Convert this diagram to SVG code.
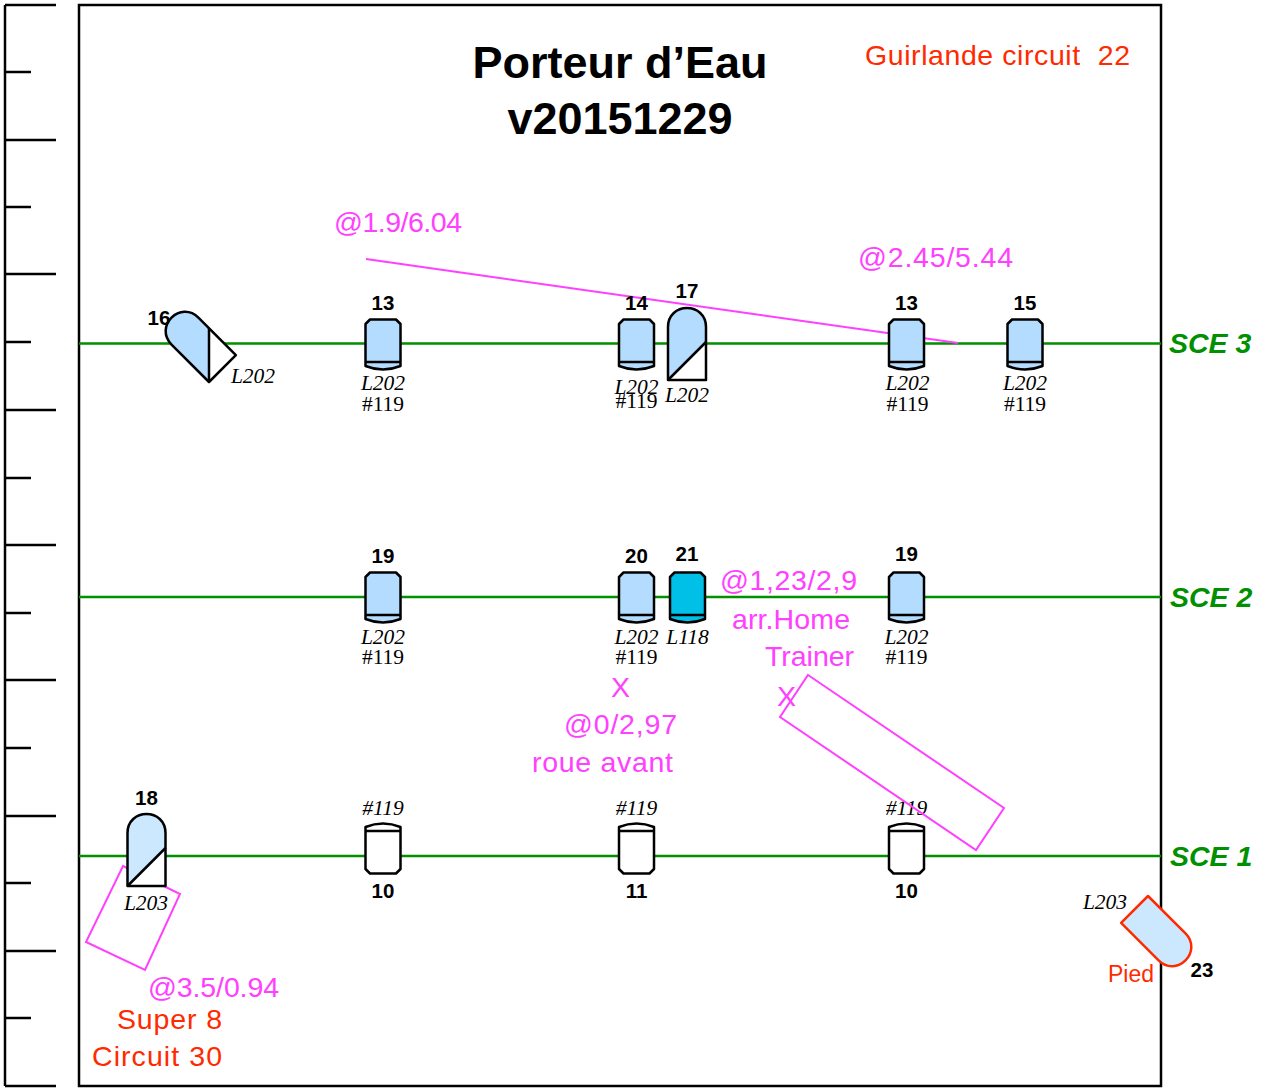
<svg xmlns="http://www.w3.org/2000/svg" xmlns:xlink="http://www.w3.org/1999/xlink" width="1265" height="1088" viewBox="0 0 1265 1088">
<style>
text{font-family:"Liberation Sans",Arial,sans-serif}
.k{fill:none;stroke:#000;stroke-width:2.5}
.g{fill:none;stroke:#009000;stroke-width:2.5}
.m{fill:none;stroke:#ff40ff;stroke-width:2}
.n{font-size:20.500px;font-weight:bold;fill:#000;text-anchor:middle}
.l{font-family:"Liberation Serif",serif;font-size:21.500px;font-style:italic;fill:#000;text-anchor:middle}
.h{font-family:"Liberation Serif",serif;font-size:21.500px;fill:#000;text-anchor:middle}
.sce{font-size:28.500px;font-weight:bold;font-style:italic;fill:#009000}
.mt{font-size:28.500px;fill:#ff40ff}
.rt{font-size:28.500px;fill:#ff2a00}
.t{font-size:45px;font-weight:bold;fill:#000;text-anchor:middle}
.b{stroke:#000;stroke-width:2.5;stroke-linejoin:round}
</style>
<defs>
<g id="par">
<path class="b" d="M-13,-23.500 H13 L17.500,-19 V23 Q0,30 -17.500,23 V-19 Z"/>
<path class="b" fill="none" d="M-17.500,19 H17.500"/>
</g>
<g id="parTop">
<path class="b" fill="#fff" d="M-13,23.500 H13 L17.500,19 V-23 Q0,-30 -17.500,-23 V19 Z"/>
<path class="b" fill="none" d="M-17.500,-19 H17.500"/>
</g>
<path id="prof" d="M0,36 V-17 C0,-29 9,-36 19,-36 C29,-36 38,-29 38,-17 V36 Z"/>
<g id="half">
<use xlink:href="#prof" href="#prof" fill="#fff"/>
<path d="M0,36 V-17 C0,-29 9,-36 19,-36 C29,-36 38,-29 38,-17 V-2 Z"/>
<use xlink:href="#prof" href="#prof" fill="none" stroke="#000" stroke-width="2.500" stroke-linejoin="round"/>
<path class="b" fill="none" d="M0,36 L38,-2"/>
</g>
</defs>

<g id="ruler">
<path class="k" d="M5,5 V1086 M5,5 H56 M5,72 H31 M5,140 H56 M5,207 H31 M5,274 H56 M5,342 H31 M5,410 H56 M5,478 H31 M5,545 H56 M5,613 H31 M5,680 H56 M5,748 H31 M5,816 H56 M5,883 H31 M5,951 H56 M5,1018 H31 M5,1086 H56"/>
</g>
<rect id="frame" x="79" y="5" width="1082" height="1081" fill="none" stroke="#000" stroke-width="2.500"/>

<g id="connectors">
<path class="g" d="M79,343.500 H1161 M79,597 H1161 M79,856 H1161"/>
</g>

<g id="title"><text class="t" x="620" y="78">Porteur d’Eau</text><text class="t" x="620" y="134">v20151229</text></g>
<text id="guirlande" class="rt" x="865" y="65" textLength="265" xml:space="preserve">Guirlande circuit  22</text>

<g id="sce-labels">
<text class="sce" x="1169" y="353">SCE 3</text>
<text class="sce" x="1170" y="607">SCE 2</text>
<text class="sce" x="1170" y="866">SCE 1</text>
</g>

<g id="annotations-back">
<path class="m" d="M366,259 L958,343"/>
<path class="m" d="M123,866 L180,894 L145,970 L86,942 Z"/>
</g>

<g id="n16"><g transform="translate(209,382) rotate(-45) translate(0,-36)"><use xlink:href="#half" href="#half" fill="#b3dcff"/></g><text class="n" x="159" y="325">16</text><text class="l" x="253" y="383">L202</text></g>
<g id="n13a"><use xlink:href="#par" href="#par" x="383" y="343" fill="#b3dcff"/><text class="n" x="383" y="310">13</text><text class="l" x="383" y="390">L202</text><text class="h" x="383" y="411">#119</text></g>
<g id="n14"><use xlink:href="#par" href="#par" x="636.500" y="343" fill="#b3dcff"/><text class="n" x="636.500" y="310">14</text><text class="l" x="636.500" y="394">L202</text><text class="h" x="636.500" y="408">#119</text></g>
<g id="n17"><use xlink:href="#half" href="#half" x="668" y="344" fill="#b3dcff"/><text class="n" x="687" y="298">17</text><text class="l" x="687" y="402">L202</text></g>
<g id="n13b"><use xlink:href="#par" href="#par" x="906.500" y="343" fill="#b3dcff"/><text class="n" x="906.500" y="310">13</text><text class="l" x="907.500" y="390">L202</text><text class="h" x="907.500" y="411">#119</text></g>
<g id="n15"><use xlink:href="#par" href="#par" x="1025" y="343" fill="#b3dcff"/><text class="n" x="1025" y="310">15</text><text class="l" x="1025" y="390">L202</text><text class="h" x="1025" y="411">#119</text></g>

<g id="n19a"><use xlink:href="#par" href="#par" x="383" y="596" fill="#b3dcff"/><text class="n" x="383" y="563">19</text><text class="l" x="383" y="644">L202</text><text class="h" x="383" y="664">#119</text></g>
<g id="n20"><use xlink:href="#par" href="#par" x="636.500" y="596" fill="#b3dcff"/><text class="n" x="636.500" y="563">20</text><text class="l" x="636.500" y="644">L202</text><text class="h" x="636.500" y="664">#119</text></g>
<g id="n21"><use xlink:href="#par" href="#par" x="687.500" y="596" fill="#00c0e8"/><text class="n" x="687" y="561">21</text><text class="l" x="687.500" y="644">L118</text></g>
<g id="n19b"><use xlink:href="#par" href="#par" x="906.500" y="596" fill="#b3dcff"/><text class="n" x="906.500" y="561">19</text><text class="l" x="906.500" y="644">L202</text><text class="h" x="906.500" y="664">#119</text></g>

<g id="n18"><use xlink:href="#half" href="#half" x="127.500" y="850" fill="#cce8ff"/><text class="n" x="146.500" y="805">18</text><text class="l" x="146" y="910">L203</text></g>
<g id="n10a"><use xlink:href="#parTop" href="#parTop" x="383" y="850"/><text class="l" x="383" y="815">#119</text><text class="n" x="383" y="898">10</text></g>
<g id="n11"><use xlink:href="#parTop" href="#parTop" x="636.500" y="850"/><text class="l" x="636.500" y="815">#119</text><text class="n" x="636.500" y="898">11</text></g>
<g id="n10b"><use xlink:href="#parTop" href="#parTop" x="906.500" y="850"/><text class="l" x="906.500" y="815">#119</text><text class="n" x="906.500" y="898">10</text></g>

<g id="n23"><g transform="translate(1148,896) rotate(135) translate(0,-36)"><use xlink:href="#prof" href="#prof" fill="#cce8ff" stroke="#ff2a00" stroke-width="2.500" stroke-linejoin="round"/></g><text class="l" x="1105" y="909">L203</text><text x="1108" y="982" font-size="23" fill="#ff2a00">Pied</text><text class="n" x="1202" y="977">23</text></g>

<g id="annotations">
<path class="m" d="M808,675 L1004,808 L976,850 L780,717 Z"/>
<text class="mt" x="334" y="232" textLength="128">@1.9/6.04</text>
<text class="mt" x="858" y="267" textLength="155">@2.45/5.44</text>
<text class="mt" x="720" y="590" textLength="137">@1,23/2,9</text>
<text class="mt" x="732" y="629" textLength="118">arr.Home</text>
<text class="mt" x="765" y="666" textLength="89">Trainer</text>
<text class="mt" x="777" y="706">X</text>
<text class="mt" x="611" y="697">X</text>
<text class="mt" x="564" y="734" textLength="113">@0/2,97</text>
<text class="mt" x="532" y="772" textLength="141">roue avant</text>
<text class="mt" x="148" y="997" textLength="131">@3.5/0.94</text>
<text class="rt" x="117" y="1029" textLength="105">Super 8</text>
<text class="rt" x="92" y="1066" textLength="130">Circuit 30</text>
</g>
</svg>
